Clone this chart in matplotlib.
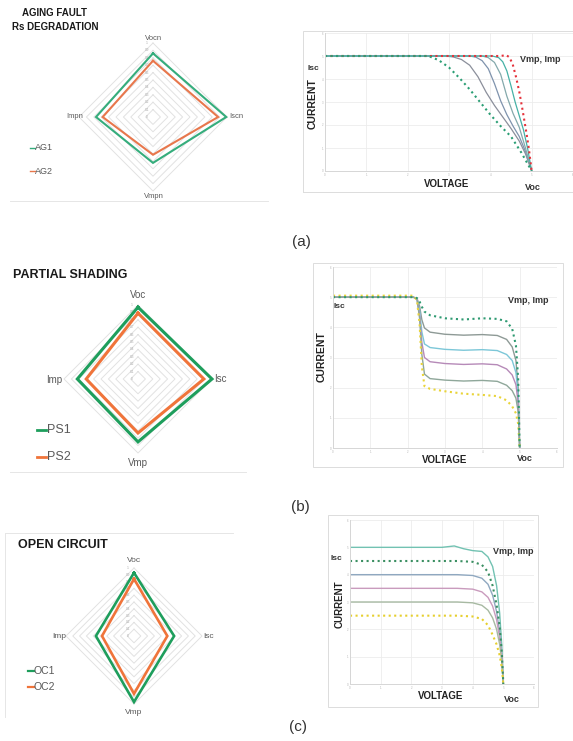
import numpy as np
import matplotlib
matplotlib.use("Agg")
import matplotlib.pyplot as plt
from matplotlib.lines import Line2D
from matplotlib.patches import Rectangle

plt.rcParams['font.family'] = ['Liberation Sans', 'DejaVu Sans']
NARROW = ['Liberation Sans Narrow', 'Liberation Sans', 'DejaVu Sans']

# ---------------- radar data (normalised parameters) ----------------
radar_axes_a = ["Vocn", "Iscn", "Vmpn", "Impn"]
ag1 = [0.86, 0.99, 0.62, 0.77]
ag2 = [0.76, 0.88, 0.51, 0.68]

radar_axes_b = ["Voc", "Isc", "Vmp", "Imp"]
ps1 = [0.97, 1.00, 0.85, 0.82]
ps2 = [0.89, 0.89, 0.73, 0.70]

radar_axes_c = ["Voc", "Isc", "Vmp", "Imp"]
oc1 = [0.93, 0.59, 0.97, 0.56]
oc2 = [0.84, 0.49, 0.85, 0.47]

ring_levels = [0.1, 0.2, 0.3, 0.4, 0.5, 0.6, 0.7, 0.8, 0.9, 1.0]
ring_labels = ["0", "0.1", "0.2", "0.3", "0.4", "0.5", "0.6", "0.7", "0.8", "0.9", "1"]

# ---------------- I-V curves: aging fault (Rs degradation) ----------------
va_1 = [0, 2.5, 2.75, 3.0, 3.25, 3.5, 3.75, 4.0, 4.25, 4.5, 4.75, 5.0]
ia_1 = [5, 5, 4.82, 4.5, 4.05, 3.55, 3.0, 2.45, 1.95, 1.5, 0.8, 0]
va_2 = [0, 2.9, 3.1, 3.3, 3.5, 3.7, 3.9, 4.1, 4.3, 4.5, 4.7, 4.85, 5.0]
ia_2 = [5, 5, 4.96, 4.85, 4.6, 4.1, 3.42, 2.85, 2.35, 1.85, 1.3, 0.75, 0]
va_3 = [0, 3.5, 3.65, 3.8, 3.95, 4.1, 4.25, 4.4, 4.55, 4.7, 4.85, 5.0]
ia_3 = [5, 5, 4.95, 4.8, 4.45, 3.8, 3.05, 2.45, 1.95, 1.5, 0.85, 0]
va_4 = [0, 3.8, 3.95, 4.1, 4.25, 4.4, 4.55, 4.7, 4.85, 5.0]
ia_4 = [5, 5, 4.93, 4.72, 4.2, 3.25, 2.5, 1.9, 1.0, 0]
va_5 = [0, 4.05, 4.2, 4.3, 4.4, 4.5, 4.6, 4.7, 4.8, 4.9, 5.0]
ia_5 = [5, 5, 4.93, 4.75, 4.35, 3.7, 3.0, 2.4, 1.8, 1.0, 0]
va_6 = [0, 4.25, 4.38, 4.46, 4.54, 4.62, 4.7, 4.78, 4.86, 4.93, 5.0]
ia_6 = [5, 5.0, 5.04, 4.95, 4.65, 4.1, 3.45, 2.65, 1.8, 1.0, 0]

# ---------------- I-V curves: partial shading ----------------
vb = [0, 2.15, 2.25, 2.32, 2.38, 2.45, 2.6, 3.0, 3.5, 4.0, 4.4, 4.65, 4.8, 4.9, 4.96, 5.0]
ib_1 = [5, 5, 4.97, 4.85, 4.68, 4.52, 4.4, 4.3, 4.26, 4.3, 4.28, 4.2, 3.95, 3.4, 2.3, 0]
ib_2 = [5, 5, 4.96, 4.7, 4.25, 3.98, 3.84, 3.77, 3.74, 3.76, 3.73, 3.6, 3.35, 2.9, 2.0, 0]
ib_3 = [5, 5, 4.95, 4.55, 3.85, 3.45, 3.33, 3.27, 3.24, 3.26, 3.23, 3.1, 2.9, 2.5, 1.75, 0]
ib_4 = [5, 5, 4.94, 4.4, 3.5, 3.0, 2.86, 2.8, 2.77, 2.79, 2.76, 2.62, 2.42, 2.1, 1.5, 0]
ib_5 = [5, 5, 4.93, 4.3, 3.1, 2.45, 2.3, 2.25, 2.22, 2.24, 2.21, 2.08, 1.9, 1.65, 1.2, 0]
ib_6 = [5.05, 5.05, 4.9, 4.1, 2.7, 2.05, 1.96, 1.88, 1.8, 1.76, 1.72, 1.58, 1.38, 1.15, 0.8, 0]

# ---------------- I-V curves: open circuit ----------------
vc_top = [0, 3.0, 3.4, 3.7, 4.0, 4.3, 4.5, 4.65, 4.78, 4.88, 4.95, 5.0]
ic_top = [5.0, 5.0, 5.05, 4.95, 4.88, 4.85, 4.65, 4.3, 3.6, 2.6, 1.4, 0]
vc = [0, 3.5, 4.0, 4.3, 4.5, 4.65, 4.78, 4.88, 4.95, 5.0]
ic_2 = [4.5, 4.5, 4.47, 4.36, 4.1, 3.6, 2.9, 2.1, 1.15, 0]
ic_3 = [4.0, 4.0, 3.97, 3.87, 3.65, 3.25, 2.65, 1.9, 1.05, 0]
ic_4 = [3.5, 3.5, 3.47, 3.37, 3.17, 2.85, 2.35, 1.7, 0.95, 0]
ic_5 = [3.0, 3.0, 2.97, 2.88, 2.7, 2.42, 2.0, 1.45, 0.82, 0]
ic_6 = [2.5, 2.5, 2.47, 2.38, 2.15, 1.8, 1.45, 1.05, 0.6, 0]

axis_ticks = [0, 1, 2, 3, 4, 5, 6]
axis_tick_labels = ["0", "1", "2", "3", "4", "5", "6"]

W, H = 573, 741
fig = plt.figure(figsize=(W / 100, H / 100), dpi=100)
fig.patch.set_facecolor('white')


def box(l, t, r, b):
    return [l / W, 1 - b / H, (r - l) / W, (b - t) / H]


def ftext(x, y, s, **kw):
    fig.text(x / W, 1 - y / H, s, **kw)


def fline(xs, ys, **kw):
    fig.add_artist(Line2D([x / W for x in xs], [1 - y / H for y in ys],
                          transform=fig.transFigure, **kw))


def frame(l, t, r, b, color='#dcdcdc'):
    fig.add_artist(Rectangle((l / W, 1 - b / H), (r - l) / W, (b - t) / H,
                             transform=fig.transFigure, fill=False,
                             edgecolor=color, lw=0.7))


def radar(cx, cy, ppu, series, colors, lw, tick_off=6, tick_fs=2.3):
    S = 95
    ax = fig.add_axes(box(cx - S, cy - S, cx + S, cy + S))
    lim = S / ppu
    ax.set_xlim(-lim, lim)
    ax.set_ylim(-lim, lim)
    ax.axis('off')
    ang = np.deg2rad([90, 0, -90, 180])
    for r in ring_levels:
        xs = np.append(r * np.cos(ang), r * np.cos(ang[0]))
        ys = np.append(r * np.sin(ang), r * np.sin(ang[0]))
        ax.plot(xs, ys, color='#e2e2e2', lw=0.7, zorder=1)
    for k, lab in enumerate(ring_labels):
        ax.text(-tick_off / ppu, k / 10, lab, fontsize=tick_fs, color='#a8a8a8',
                ha='center', va='center', zorder=2)
    for vals, c in zip(series, colors):
        v = np.asarray(vals)
        xs = np.append(v * np.cos(ang), v[0] * np.cos(ang[0]))
        ys = np.append(v * np.sin(ang), v[0] * np.sin(ang[0]))
        ax.plot(xs, ys, color=c, lw=lw, zorder=3, solid_joinstyle='miter')
    return ax


def iv_axes(l, t, r, b):
    ax = fig.add_axes(box(l, t, r, b))
    ax.set_facecolor('none')
    ax.set_xlim(0, 6)
    ax.set_ylim(0, 6)
    ax.set_xticks(axis_ticks)
    ax.set_yticks(axis_ticks)
    ax.set_xticklabels(axis_tick_labels, fontsize=2.0, color='#b0b0b0')
    ax.set_yticklabels(axis_tick_labels, fontsize=2.0, color='#b0b0b0')
    ax.tick_params(length=0, pad=1.2)
    ax.grid(color='#ececec', lw=0.6)
    for s in ['top', 'right']:
        ax.spines[s].set_visible(False)
    for s in ['left', 'bottom']:
        ax.spines[s].set_color('#d6d6d6')
        ax.spines[s].set_linewidth(0.7)
    return ax


GREEN_A, ORANGE_A = '#35ad7c', '#e8774c'
GREEN_B, ORANGE_B = '#1e9e5c', '#f0743a'
LABEL = '#595959'

# ======================= (a) aging fault =======================
ftext(22, 13, "AGING FAULT", fontsize=7, fontweight='bold', color='#1a1a1a', va='center')
ftext(12, 27, "Rs DEGRADATION", fontsize=7, fontweight='bold', color='#1a1a1a', va='center')
radar(153, 117, 74, [ag1, ag2], [GREEN_A, ORANGE_A], 1.5)
ftext(154, 38, radar_axes_a[0], fontsize=5.5, color=LABEL, ha='center', va='center')
ftext(229, 117, radar_axes_a[1], fontsize=5.5, color=LABEL, ha='left', va='center')
ftext(154, 197, radar_axes_a[2], fontsize=5.5, color=LABEL, ha='center', va='center')
ftext(83, 117, radar_axes_a[3], fontsize=5.5, color=LABEL, ha='right', va='center')
fline([30, 35], [148, 148], color=GREEN_A, lw=1.0)
ftext(35, 148, "AG1", fontsize=6.5, color=LABEL, va='center')
fline([30, 35], [171, 171], color=ORANGE_A, lw=1.0)
ftext(35, 171, "AG2", fontsize=6.5, color=LABEL, va='center')
fline([10, 268], [201, 201], color='#e6e6e6', lw=0.7)

frame(303, 31, 576, 192)
axa = iv_axes(325, 33, 573, 171)
axa.plot(va_2, ia_2, color='#8b8f9b', lw=0.9)
axa.plot(va_3, ia_3, color='#7f93ad', lw=0.9)
axa.plot(va_4, ia_4, color='#84a9ac', lw=0.9)
axa.plot(va_5, ia_5, color='#45b1a6', lw=0.9)
axa.plot(va_6, ia_6, color='#e5323b', lw=1.5, ls=':')
axa.plot(va_1, ia_1, color='#2a9e74', lw=1.5, ls=':')
ftext(307, 69, "Isc", fontsize=6, fontweight='bold', color='#333333', va='center', family=NARROW)
ftext(313, 104, "CURRENT", fontsize=7.5, fontweight='bold', color='#222222', rotation=90,
      ha='center', va='center', family=NARROW)
ftext(447, 184, "VOLTAGE", fontsize=7, fontweight='bold', color='#222222', ha='center',
      va='center', family=NARROW)
ftext(533, 188, "Voc", fontsize=6.5, fontweight='bold', color='#333333', ha='center', va='center',
      family=NARROW)
ftext(520, 60, "Vmp, Imp", fontsize=6.5, fontweight='bold', color='#333333', va='center',
      family=NARROW)
ftext(301, 242, "(a)", fontsize=11, color='#333333', ha='center', va='center')

# ======================= (b) partial shading =======================
ftext(13, 275, "PARTIAL SHADING", fontsize=9, fontweight='bold', color='#1a1a1a', va='center')
radar(138, 379, 74, [ps1, ps2], [GREEN_B, ORANGE_B], 2.2)
ftext(138, 295, radar_axes_b[0], fontsize=7, color=LABEL, ha='center', va='center')
ftext(214, 379, radar_axes_b[1], fontsize=7, color=LABEL, ha='left', va='center')
ftext(138, 463, radar_axes_b[2], fontsize=7, color=LABEL, ha='center', va='center')
ftext(62, 380, radar_axes_b[3], fontsize=7, color=LABEL, ha='right', va='center')
fline([37, 46], [430, 430], color=GREEN_B, lw=2.0)
ftext(47, 430, "PS1", fontsize=9, color=LABEL, va='center')
fline([37, 46], [457, 457], color=ORANGE_B, lw=2.0)
ftext(47, 457, "PS2", fontsize=9, color=LABEL, va='center')
fline([10, 246], [472, 472], color='#e6e6e6', lw=0.7)

frame(313, 263, 563, 467)
axb = iv_axes(333, 267, 557, 448)
axb.plot(vb, ib_2, color='#8e9a96', lw=1.0)
axb.plot(vb, ib_3, color='#7cc7d8', lw=1.0)
axb.plot(vb, ib_4, color='#b68ab8', lw=1.0)
axb.plot(vb, ib_5, color='#8fa79a', lw=1.0)
axb.plot(vb, ib_6, color='#e9d43a', lw=1.5, ls=':')
axb.plot(vb, ib_1, color='#2f9a72', lw=1.5, ls=':')
ftext(334, 306, "Isc", fontsize=6, fontweight='bold', color='#333333', va='center', family=NARROW)
ftext(322, 357, "CURRENT", fontsize=7.5, fontweight='bold', color='#222222', rotation=90,
      ha='center', va='center', family=NARROW)
ftext(445, 460, "VOLTAGE", fontsize=7, fontweight='bold', color='#222222', ha='center',
      va='center', family=NARROW)
ftext(525, 459, "Voc", fontsize=6.5, fontweight='bold', color='#333333', ha='center', va='center',
      family=NARROW)
ftext(508, 300, "Vmp, Imp", fontsize=6.5, fontweight='bold', color='#333333', va='center',
      family=NARROW)
ftext(300, 507, "(b)", fontsize=11, color='#333333', ha='center', va='center')

# ======================= (c) open circuit =======================
fline([5, 233], [533, 533], color='#e6e6e6', lw=0.7)
fline([5, 5], [533, 717], color='#e6e6e6', lw=0.7)
ftext(18, 545, "OPEN CIRCUIT", fontsize=9, fontweight='bold', color='#1a1a1a', va='center')
radar(134, 636, 68, [oc1, oc2], [GREEN_B, ORANGE_B], 1.9)
ftext(134, 561, radar_axes_c[0], fontsize=6, color=LABEL, ha='center', va='center')
ftext(203, 636, radar_axes_c[1], fontsize=6, color=LABEL, ha='left', va='center')
ftext(134, 712, radar_axes_c[2], fontsize=6, color=LABEL, ha='center', va='center')
ftext(66, 636, radar_axes_c[3], fontsize=6, color=LABEL, ha='right', va='center')
fline([28, 34], [671, 671], color=GREEN_B, lw=1.6)
ftext(34, 671, "OC1", fontsize=7.5, color=LABEL, va='center')
fline([28, 34], [687, 687], color=ORANGE_B, lw=1.6)
ftext(34, 687, "OC2", fontsize=7.5, color=LABEL, va='center')

frame(328, 515, 538, 707)
axc = iv_axes(350, 520, 534, 684)
axc.plot(vc_top, ic_top, color='#72c2b2', lw=1.0)
axc.plot(vc, ic_3, color='#8fa8c0', lw=1.0)
axc.plot(vc, ic_4, color='#c99bbd', lw=1.0)
axc.plot(vc, ic_5, color='#a7b9a2', lw=1.0)
axc.plot(vc, ic_6, color='#e6cf2e', lw=1.5, ls=':')
axc.plot(vc, ic_2, color='#3b8f62', lw=1.5, ls=':')
ftext(330, 559, "Isc", fontsize=6, fontweight='bold', color='#333333', va='center', family=NARROW)
ftext(340, 604, "CURRENT", fontsize=7, fontweight='bold', color='#222222', rotation=90,
      ha='center', va='center', family=NARROW)
ftext(441, 696, "VOLTAGE", fontsize=7, fontweight='bold', color='#222222', ha='center',
      va='center', family=NARROW)
ftext(512, 699, "Voc", fontsize=6.5, fontweight='bold', color='#333333', ha='center', va='center',
      family=NARROW)
ftext(493, 552, "Vmp, Imp", fontsize=6.5, fontweight='bold', color='#333333', va='center',
      family=NARROW)
ftext(298, 727, "(c)", fontsize=11, color='#333333', ha='center', va='center')

fig.savefig("out.png", dpi=100, facecolor='white')
